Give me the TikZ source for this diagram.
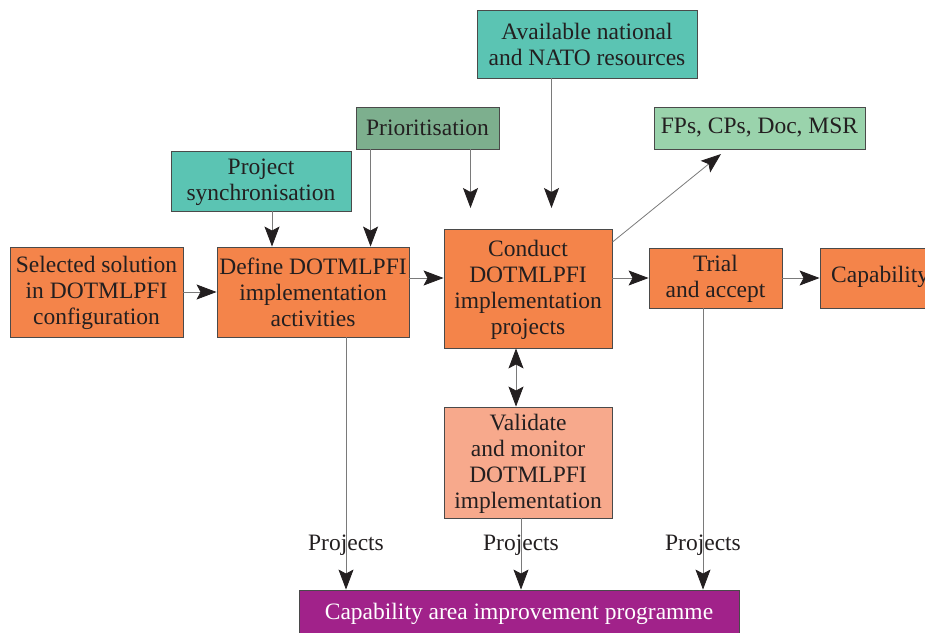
\documentclass[tikz,border=0pt]{standalone}
\usepackage{fontspec}
\setmainfont{Liberation Serif}
\newfontfamily\boxfont{Liberation Serif}
\usetikzlibrary{arrows.meta}
\definecolor{orangebox}{HTML}{F4844A}
\definecolor{tealbox}{HTML}{5BC4B3}
\definecolor{sagebox}{HTML}{7DAF8E}
\definecolor{mintbox}{HTML}{9AD3AC}
\definecolor{salmonbox}{HTML}{F7A98C}
\definecolor{plumbox}{HTML}{A1228A}
\definecolor{edgegray}{HTML}{4A4A4A}
\definecolor{linegray}{HTML}{7A7A7A}
\definecolor{ink}{HTML}{231F20}
\tikzset{
  box/.style={draw=edgegray, line width=0.9pt, align=center, inner sep=0pt,
    text=ink, font=\boxfont\fontsize{23.5}{26}\selectfont},
  flow/.style={draw=linegray, line width=0.8pt,
    -{Stealth[length=20pt,width=15pt,inset=4pt,color=ink]}},
  flowboth/.style={draw=linegray, line width=0.8pt,
    {Stealth[length=20pt,width=15pt,inset=4pt,color=ink]}-{Stealth[length=20pt,width=15pt,inset=4pt,color=ink]}},
  lbl/.style={text=ink, inner sep=0pt, font=\boxfont\fontsize{23.5}{26}\selectfont}
}
\begin{document}
\begin{tikzpicture}[x=1pt,y=-1pt]
\useasboundingbox (0,0) rectangle (925,632);
\clip (0,0) rectangle (925,632);

% process boxes
\node[box, fill=orangebox, minimum width=173pt, minimum height=90pt] (sel) at (96.5,292)
  {\strut Selected solution\\in DOTMLPFI\\configuration};
\node[box, fill=orangebox, minimum width=192pt, minimum height=90pt] (def) at (313,292)
  {\strut Define DOTMLPFI\\implementation\\activities};
\node[box, fill=tealbox, minimum width=180pt, minimum height=60pt] (sync) at (261,181)
  {\strut Project\\synchronisation};
\node[box, fill=sagebox, minimum width=143pt, minimum height=42pt] (prio) at (427.5,128)
  {Prioritisation};
\node[box, fill=tealbox, minimum width=220pt, minimum height=68pt] (avail) at (587,44)
  {\strut Available national\\and NATO resources};
\node[box, fill=mintbox, minimum width=211pt, minimum height=42pt] (fps) at (759.5,128)
  {FPs, CPs, Doc, MSR};
\node[box, fill=orangebox, minimum width=168pt, minimum height=119pt] (cond) at (528,288.5)
  {\strut Conduct\\DOTMLPFI\\implementation\\projects};
\node[box, fill=orangebox, minimum width=133pt, minimum height=60pt] (trial) at (715.5,278)
  {\strut Trial\\and accept};
\node[box, fill=orangebox, minimum width=125pt, minimum height=60pt] (cap) at (882.5,278)
  {};
\node[lbl, anchor=west] (captext) at (831,277) {Capability};
\node[box, fill=salmonbox, minimum width=168pt, minimum height=111pt] (val) at (528,462.5)
  {\strut Validate\\and monitor\\DOTMLPFI\\implementation};
\node[box, fill=plumbox, minimum width=440pt, minimum height=52pt] (prog) at (519,616)
  {};
\node[lbl, text=white] (progtext) at (519,614) {Capability area improvement programme};

% free ends of the open arrows
\coordinate (prioend) at (470.5,208);
\coordinate (availend) at (551.5,208);
\coordinate (fpsend) at (721,154);
\coordinate (condout) at (612.5,242);

% horizontal flow
\draw[flow] (sel.east |- 0,292) -- (def.west |- 0,292);
\draw[flow] (def.east |- 0,278) -- (cond.west |- 0,278);
\draw[flow] (cond.east |- 0,278) -- (trial.west |- 0,278);
\draw[flow] (trial.east |- 0,278) -- (cap.west |- 0,278);

% inputs from above
\draw[flow] ([xshift=11pt]sync.south) -- ([xshift=11pt]sync.south |- def.north);
\draw[flow] ([xshift=15pt]prio.south west) -- ([xshift=15pt]prio.south west |- def.north);
\draw[flow] (prio.south -| prioend) -- (prioend);
\draw[flow] (avail.south -| availend) -- (availend);

% output to FPs
\draw[flow] (condout) -- (fpsend);

% validation loop
\draw[flowboth] ([xshift=-12pt]cond.south) -- ([xshift=-12pt]val.north);

% project flows into the programme
\draw[flow] ([xshift=33pt]def.south) -- ([xshift=33pt]def.south |- prog.north);
\draw[flow] ([xshift=-7pt]val.south) -- ([xshift=-7pt]val.south |- prog.north);
\draw[flow] ([xshift=-12.5pt]trial.south) -- ([xshift=-12.5pt]trial.south |- prog.north);
\node[lbl] (pj1) at (346,545) {Projects};
\node[lbl] (pj2) at (521,545) {Projects};
\node[lbl] (pj3) at (703,545) {Projects};
\end{tikzpicture}
\end{document}
